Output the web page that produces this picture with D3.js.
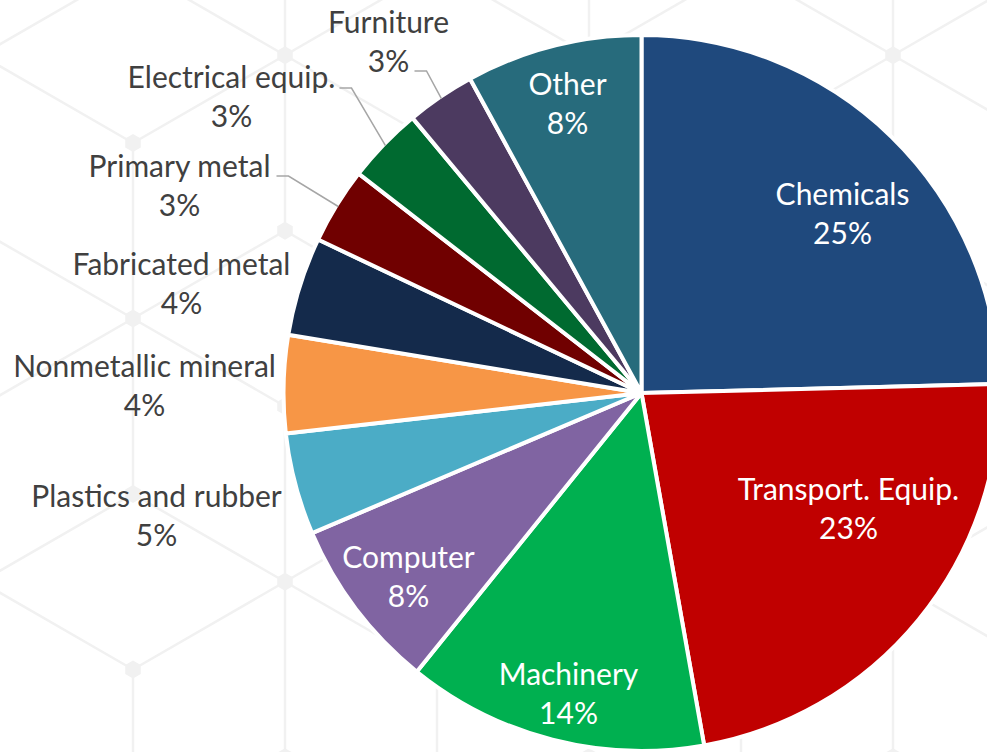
<!DOCTYPE html>
<html>
<head>
<meta charset="utf-8">
<script src="https://cdn.jsdelivr.net/npm/d3@7"></script>
<style>
  body { margin: 0; background: #ffffff; overflow: hidden; }
  svg { display: block; }
  .lbl { font-family: Lato, "Open Sans", sans-serif; }
</style>
</head>
<body>
<div id="chart"></div>
<script>
// data (percent of total)
const categories = ["Chemicals", "Transport. Equip.", "Machinery", "Computer", "Plastics and rubber",
  "Nonmetallic mineral", "Fabricated metal", "Primary metal", "Electrical equip.", "Furniture", "Other"];
const shares = [24.6, 22.6, 13.6, 7.8, 4.6, 4.4, 4.45, 3.45, 3.45, 3.1, 7.95];

const sliceColors = ["#1f497d", "#c00000", "#00b050", "#8064a2", "#4bacc6", "#f79646",
  "#142a4b", "#700000", "#006a30", "#4c3a60", "#276b7c"];

// where each label sits, relative to the pie centre: [x of text centre, y of first baseline]
const labelOffsets = [[201, -188], [207, 107], [-73, 292], [-233, 175], [-485, 114], [-497, -16],
  [-460, -118], [-462, -216], [-410, -305], [-253, -360], [-74, -298]];
const labelInside = [true, true, true, true, false, false, false, false, false, false, true];
// elbow of the leader line for labels that have one
const leaderElbows = [null, null, null, null, null, null, null,
  [-353, -217], [-290, -305], [-215, -322], null];

class PieChart {
  constructor(_config, _data) {
    this.config = {
      parentElement: _config.parentElement,
      containerWidth: _config.containerWidth || 987,
      containerHeight: _config.containerHeight || 752,
      cx: _config.cx, cy: _config.cy, radius: _config.radius,
      fontSize: _config.fontSize || 30
    };
    this.data = _data;
    this.initVis();
  }

  initVis() {
    let vis = this;
    vis.svg = d3.select(vis.config.parentElement).append('svg')
      .attr('width', vis.config.containerWidth)
      .attr('height', vis.config.containerHeight);

    vis.drawBackground();

    vis.g = vis.svg.append('g')
      .attr('transform', `translate(${vis.config.cx},${vis.config.cy})`);

    vis.pie = d3.pie().sort(null).value(d => d.value);
    vis.arc = d3.arc().innerRadius(0).outerRadius(vis.config.radius);
    vis.arcs = vis.pie(vis.data);

    vis.g.selectAll('path.slice')
      .data(vis.arcs)
      .join('path')
      .attr('class', 'slice')
      .attr('d', vis.arc)
      .attr('fill', d => d.data.color)
      .attr('stroke', '#ffffff')
      .attr('stroke-width', 4)
      .attr('stroke-linejoin', 'round');

    // leader lines
    let rEdge = vis.config.radius - 2;
    vis.g.selectAll('path.leader')
      .data(vis.arcs.filter(d => d.data.elbow))
      .join('path')
      .attr('class', 'leader')
      .attr('fill', 'none')
      .attr('stroke', '#a6a6a6')
      .attr('stroke-width', 1.5)
      .attr('d', d => {
        let a = (d.startAngle + d.endAngle) / 2;
        let p = [rEdge * Math.sin(a), -rEdge * Math.cos(a)];
        let e = d.data.elbow;
        return d3.line()([p, e, [e[0] - 12, e[1]]]);
      });

    let labels = vis.g.selectAll('text.lbl')
      .data(vis.arcs)
      .join('text')
      .attr('class', 'lbl')
      .attr('text-anchor', 'middle')
      .attr('font-size', vis.config.fontSize)
      .attr('fill', d => d.data.inside ? '#ffffff' : '#404040')
      .attr('transform', d => `translate(${d.data.offset[0]},${d.data.offset[1]})`);

    labels.append('tspan').attr('x', 0).attr('y', 0).text(d => d.data.name);
    labels.append('tspan').attr('x', 0).attr('y', 39).text(d => Math.round(d.data.value) + '%');
  }

  drawBackground() {
    let vis = this;
    // faint isometric "blocks" pattern behind the chart
    const colStep = 152, rowStep = 175.5, x0 = 133, y0 = 143;
    const bg = vis.svg.append('g').attr('class', 'bg');
    const pos = (i, j) => [x0 + colStep * i, y0 - rowStep / 2 * i + rowStep * j];
    const mod3 = n => ((n % 3) + 3) % 3;
    const nodes = [];
    for (let i = -2; i <= 8; i++) {
      for (let j = -3; j <= 9; j++) {
        let p = pos(i, j);
        if (p[0] < -200 || p[0] > 1200 || p[1] < -200 || p[1] > 950) continue;
        nodes.push({ i, j, p });
      }
    }
    const edges = [];
    nodes.filter(n => mod3(n.i + n.j) === 1).forEach(n => {
      [[0, 1], [0, -1], [1, 0], [1, 1], [-1, 0], [-1, -1]].forEach(([di, dj]) => {
        edges.push([n.p, pos(n.i + di, n.j + dj)]);
      });
    });
    bg.selectAll('line')
      .data(edges)
      .join('line')
      .attr('x1', d => d[0][0]).attr('y1', d => d[0][1])
      .attr('x2', d => d[1][0]).attr('y2', d => d[1][1])
      .attr('stroke', '#f1f1f1')
      .attr('stroke-width', 2.5);
    const hex = d3.range(6).map(k => {
      let a = Math.PI / 3 * k + Math.PI / 6;
      return [9 * Math.cos(a), 9 * Math.sin(a)];
    });
    bg.selectAll('path')
      .data(nodes)
      .join('path')
      .attr('d', d => d3.line()(hex.map(h => [d.p[0] + h[0], d.p[1] + h[1]])) + 'Z')
      .attr('fill', '#f1f1f1');
  }
}

const data = categories.map((c, k) => ({
  name: c,
  value: shares[k],
  color: sliceColors[k],
  offset: labelOffsets[k],
  inside: labelInside[k],
  elbow: leaderElbows[k]
}));

new PieChart({ parentElement: '#chart', cx: 641.5, cy: 393, radius: 358, fontSize: 30 }, data);
</script>
</body>
</html>
